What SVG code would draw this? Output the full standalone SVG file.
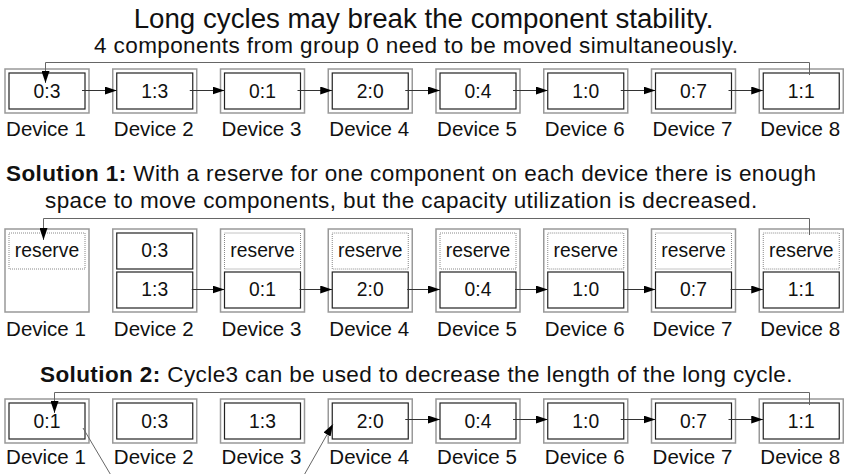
<svg xmlns="http://www.w3.org/2000/svg" width="845" height="474" viewBox="0 0 845 474">
  <style>
    text { font-family: "Liberation Sans", Arial, sans-serif; fill: #111; }
    .title { font-size: 27.7px; text-anchor: middle; }
    .sub { font-size: 22.5px; letter-spacing: 0.4px; }
    .lbl { font-size: 20.5px; text-anchor: middle; }
    .val { font-size: 19.3px; text-anchor: middle; }
    .outer { fill: #fff; stroke: #999; stroke-width: 1.5; }
    .inner { fill: #fff; stroke: #222; stroke-width: 1.2; }
    .res { fill: #fff; stroke: #888; stroke-width: 1; stroke-dasharray: 1 1; }
    .conn { fill: none; stroke: #333; stroke-width: 1; }
    .loop { fill: none; stroke: #666; stroke-width: 1; }
  </style>
  <defs>
    <marker id="arrow" markerUnits="userSpaceOnUse" markerWidth="12" markerHeight="8" refX="12" refY="4" orient="auto">
      <path d="M0,0 L12,4 L0,8 Z" fill="#000"/>
    </marker>
  </defs>

  <!-- Headings -->
  <text class="title" x="423.5" y="28">Long cycles may break the component stability.</text>
  <text class="sub" x="94" y="53">4 components from group 0 need to be moved simultaneously.</text>
  <text class="sub" x="6" y="181"><tspan font-weight="bold">Solution 1:</tspan> With a reserve for one component on each device there is enough</text>
  <text class="sub" x="45" y="208">space to move components, but the capacity utilization is decreased.</text>
  <text class="sub" x="40" y="382"><tspan font-weight="bold">Solution 2:</tspan> Cycle3 can be used to decrease the length of the long cycle.</text>

  <!-- Row 1: the long cycle -->
  <g id="r1-dev1" transform="translate(5,0)"><rect class="outer" x="0" y="69" width="84" height="44"/><rect class="inner" x="4" y="73" width="76" height="36"/><text class="val" x="42" y="98">0:3</text><text class="lbl" x="41" y="136">Device 1</text></g>
  <g id="r1-dev2" transform="translate(112.75,0)"><rect class="outer" x="0" y="69" width="84" height="44"/><rect class="inner" x="4" y="73" width="76" height="36"/><text class="val" x="42" y="98">1:3</text><text class="lbl" x="41" y="136">Device 2</text></g>
  <g id="r1-dev3" transform="translate(220.5,0)"><rect class="outer" x="0" y="69" width="84" height="44"/><rect class="inner" x="4" y="73" width="76" height="36"/><text class="val" x="42" y="98">0:1</text><text class="lbl" x="41" y="136">Device 3</text></g>
  <g id="r1-dev4" transform="translate(328.25,0)"><rect class="outer" x="0" y="69" width="84" height="44"/><rect class="inner" x="4" y="73" width="76" height="36"/><text class="val" x="42" y="98">2:0</text><text class="lbl" x="41" y="136">Device 4</text></g>
  <g id="r1-dev5" transform="translate(436,0)"><rect class="outer" x="0" y="69" width="84" height="44"/><rect class="inner" x="4" y="73" width="76" height="36"/><text class="val" x="42" y="98">0:4</text><text class="lbl" x="41" y="136">Device 5</text></g>
  <g id="r1-dev6" transform="translate(543.75,0)"><rect class="outer" x="0" y="69" width="84" height="44"/><rect class="inner" x="4" y="73" width="76" height="36"/><text class="val" x="42" y="98">1:0</text><text class="lbl" x="41" y="136">Device 6</text></g>
  <g id="r1-dev7" transform="translate(651.5,0)"><rect class="outer" x="0" y="69" width="84" height="44"/><rect class="inner" x="4" y="73" width="76" height="36"/><text class="val" x="42" y="98">0:7</text><text class="lbl" x="41" y="136">Device 7</text></g>
  <g id="r1-dev8" transform="translate(759.25,0)"><rect class="outer" x="0" y="69" width="84" height="44"/><rect class="inner" x="4" y="73" width="76" height="36"/><text class="val" x="42" y="98">1:1</text><text class="lbl" x="41" y="136">Device 8</text></g>

  <!-- Row 2: one reserve slot per device -->
  <g id="r2-dev1" transform="translate(5,0)"><rect class="outer" x="0" y="229" width="84" height="83"/><rect class="res" x="4" y="233" width="76" height="36"/><text class="val" x="42" y="257">reserve</text><text class="lbl" x="41" y="336">Device 1</text></g>
  <g id="r2-dev2" transform="translate(112.75,0)"><rect class="outer" x="0" y="229" width="84" height="83"/><rect class="inner" x="4" y="233" width="76" height="36"/><text class="val" x="42" y="257">0:3</text><rect class="inner" x="4" y="272" width="76" height="36"/><text class="val" x="42" y="296">1:3</text><text class="lbl" x="41" y="336">Device 2</text></g>
  <g id="r2-dev3" transform="translate(220.5,0)"><rect class="outer" x="0" y="229" width="84" height="83"/><rect class="res" x="4" y="233" width="76" height="36"/><text class="val" x="42" y="257">reserve</text><rect class="inner" x="4" y="272" width="76" height="36"/><text class="val" x="42" y="296">0:1</text><text class="lbl" x="41" y="336">Device 3</text></g>
  <g id="r2-dev4" transform="translate(328.25,0)"><rect class="outer" x="0" y="229" width="84" height="83"/><rect class="res" x="4" y="233" width="76" height="36"/><text class="val" x="42" y="257">reserve</text><rect class="inner" x="4" y="272" width="76" height="36"/><text class="val" x="42" y="296">2:0</text><text class="lbl" x="41" y="336">Device 4</text></g>
  <g id="r2-dev5" transform="translate(436,0)"><rect class="outer" x="0" y="229" width="84" height="83"/><rect class="res" x="4" y="233" width="76" height="36"/><text class="val" x="42" y="257">reserve</text><rect class="inner" x="4" y="272" width="76" height="36"/><text class="val" x="42" y="296">0:4</text><text class="lbl" x="41" y="336">Device 5</text></g>
  <g id="r2-dev6" transform="translate(543.75,0)"><rect class="outer" x="0" y="229" width="84" height="83"/><rect class="res" x="4" y="233" width="76" height="36"/><text class="val" x="42" y="257">reserve</text><rect class="inner" x="4" y="272" width="76" height="36"/><text class="val" x="42" y="296">1:0</text><text class="lbl" x="41" y="336">Device 6</text></g>
  <g id="r2-dev7" transform="translate(651.5,0)"><rect class="outer" x="0" y="229" width="84" height="83"/><rect class="res" x="4" y="233" width="76" height="36"/><text class="val" x="42" y="257">reserve</text><rect class="inner" x="4" y="272" width="76" height="36"/><text class="val" x="42" y="296">0:7</text><text class="lbl" x="41" y="336">Device 7</text></g>
  <g id="r2-dev8" transform="translate(759.25,0)"><rect class="outer" x="0" y="229" width="84" height="83"/><rect class="res" x="4" y="233" width="76" height="36"/><text class="val" x="42" y="257">reserve</text><rect class="inner" x="4" y="272" width="76" height="36"/><text class="val" x="42" y="296">1:1</text><text class="lbl" x="41" y="336">Device 8</text></g>

  <!-- Row 3: shortened cycle -->
  <g id="r3-dev1" transform="translate(5,0)"><rect class="outer" x="0" y="399" width="84" height="44"/><rect class="inner" x="4" y="403" width="76" height="36"/><text class="val" x="42" y="428">0:1</text><text class="lbl" x="41" y="464">Device 1</text></g>
  <g id="r3-dev2" transform="translate(112.75,0)"><rect class="outer" x="0" y="399" width="84" height="44"/><rect class="inner" x="4" y="403" width="76" height="36"/><text class="val" x="42" y="428">0:3</text><text class="lbl" x="41" y="464">Device 2</text></g>
  <g id="r3-dev3" transform="translate(220.5,0)"><rect class="outer" x="0" y="399" width="84" height="44"/><rect class="inner" x="4" y="403" width="76" height="36"/><text class="val" x="42" y="428">1:3</text><text class="lbl" x="41" y="464">Device 3</text></g>
  <g id="r3-dev4" transform="translate(328.25,0)"><rect class="outer" x="0" y="399" width="84" height="44"/><rect class="inner" x="4" y="403" width="76" height="36"/><text class="val" x="42" y="428">2:0</text><text class="lbl" x="41" y="464">Device 4</text></g>
  <g id="r3-dev5" transform="translate(436,0)"><rect class="outer" x="0" y="399" width="84" height="44"/><rect class="inner" x="4" y="403" width="76" height="36"/><text class="val" x="42" y="428">0:4</text><text class="lbl" x="41" y="464">Device 5</text></g>
  <g id="r3-dev6" transform="translate(543.75,0)"><rect class="outer" x="0" y="399" width="84" height="44"/><rect class="inner" x="4" y="403" width="76" height="36"/><text class="val" x="42" y="428">1:0</text><text class="lbl" x="41" y="464">Device 6</text></g>
  <g id="r3-dev7" transform="translate(651.5,0)"><rect class="outer" x="0" y="399" width="84" height="44"/><rect class="inner" x="4" y="403" width="76" height="36"/><text class="val" x="42" y="428">0:7</text><text class="lbl" x="41" y="464">Device 7</text></g>
  <g id="r3-dev8" transform="translate(759.25,0)"><rect class="outer" x="0" y="399" width="84" height="44"/><rect class="inner" x="4" y="403" width="76" height="36"/><text class="val" x="42" y="428">1:1</text><text class="lbl" x="41" y="464">Device 8</text></g>

  <!-- Connectors -->
  <g id="connectors">
    <!-- row 1 -->
    <path class="conn" marker-end="url(#arrow)" d="M82,90.5 H116.75"/>
    <path class="conn" marker-end="url(#arrow)" d="M189.75,90.5 H224.5"/>
    <path class="conn" marker-end="url(#arrow)" d="M297.5,90.5 H332.25"/>
    <path class="conn" marker-end="url(#arrow)" d="M405.25,90.5 H440"/>
    <path class="conn" marker-end="url(#arrow)" d="M513,90.5 H547.75"/>
    <path class="conn" marker-end="url(#arrow)" d="M620.75,90.5 H655.5"/>
    <path class="conn" marker-end="url(#arrow)" d="M728.5,90.5 H763.25"/>
    <path class="loop" marker-end="url(#arrow)" d="M809.5,75 V62.5 H45.5 V83"/>
    <!-- row 2 -->
    <path class="conn" marker-end="url(#arrow)" d="M191.75,289.5 H224.5"/>
    <path class="conn" marker-end="url(#arrow)" d="M299.5,289.5 H332.25"/>
    <path class="conn" marker-end="url(#arrow)" d="M407.25,289.5 H440"/>
    <path class="conn" marker-end="url(#arrow)" d="M515,289.5 H547.75"/>
    <path class="conn" marker-end="url(#arrow)" d="M622.75,289.5 H655.5"/>
    <path class="conn" marker-end="url(#arrow)" d="M730.5,289.5 H763.25"/>
    <path class="loop" marker-end="url(#arrow)" d="M809.5,235 V218.5 H43.5 V240"/>
    <!-- row 3 -->
    <path class="conn" marker-end="url(#arrow)" d="M405.25,419.5 H440"/>
    <path class="conn" marker-end="url(#arrow)" d="M513,419.5 H547.75"/>
    <path class="conn" marker-end="url(#arrow)" d="M620.75,419.5 H655.5"/>
    <path class="conn" marker-end="url(#arrow)" d="M728.5,419.5 H763.25"/>
    <path class="loop" marker-end="url(#arrow)" d="M809.5,405 V392.5 H54.5 V413"/>
    <path class="loop" d="M83,428 L112,477"/>
    <path class="loop" marker-end="url(#arrow)" d="M303,477 L333,424"/>
  </g>
</svg>
